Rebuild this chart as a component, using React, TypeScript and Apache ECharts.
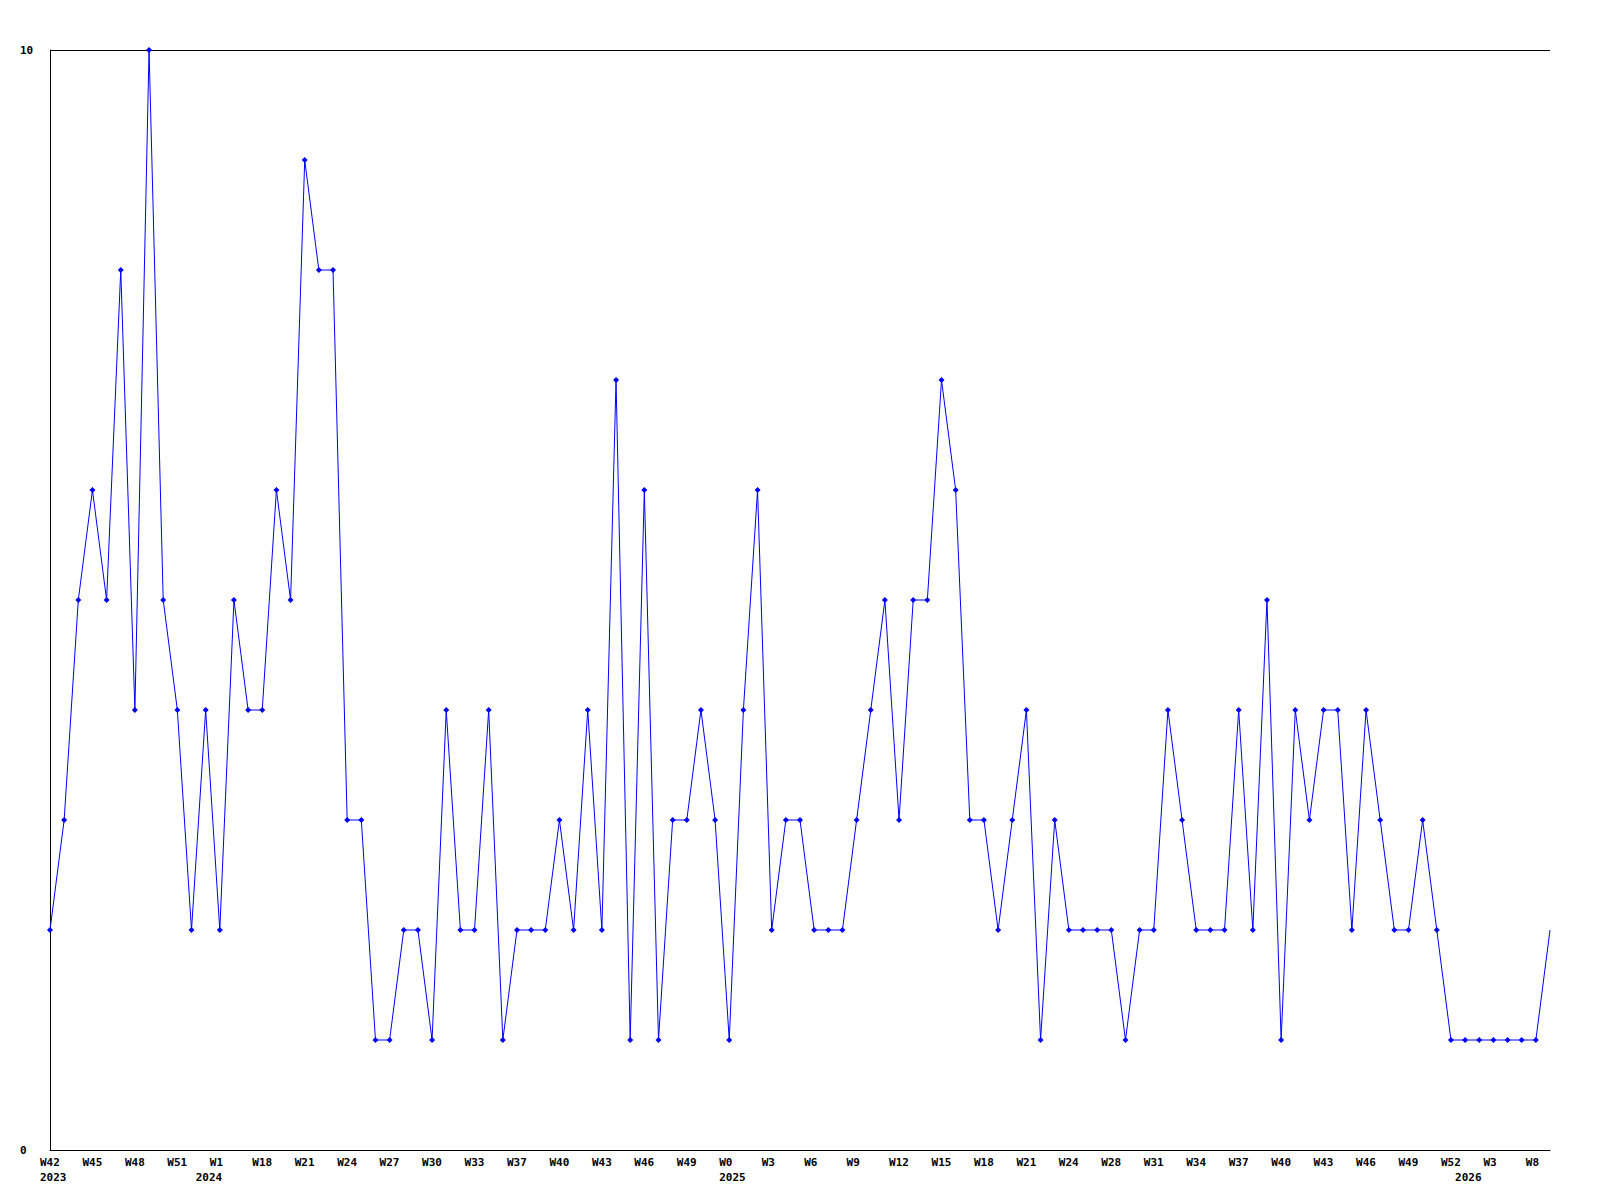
import React, { useEffect, useRef } from "react";
import * as echarts from "echarts";

const weeks = [
  "W42", "W43", "W44", "W45", "W46", "W47", "W48", "W49", "W50", "W51",
  "W52", "W0", "W1", "W2", "W17", "W18", "W19", "W20", "W21", "W22",
  "W23", "W24", "W25", "W26", "W27", "W28", "W29", "W30", "W31", "W32",
  "W33", "W34", "W35", "W37", "W38", "W39", "W40", "W41", "W42", "W43",
  "W44", "W45", "W46", "W47", "W48", "W49", "W50", "W51", "W0", "W1",
  "W2", "W3", "W4", "W5", "W6", "W7", "W8", "W9", "W10", "W11",
  "W12", "W13", "W14", "W15", "W16", "W17", "W18", "W19", "W20", "W21",
  "W22", "W23", "W24", "W25", "W26", "W28", "W29", "W30", "W31", "W32",
  "W33", "W34", "W35", "W36", "W37", "W38", "W39", "W40", "W41", "W42",
  "W43", "W44", "W45", "W46", "W47", "W48", "W49", "W50", "W51", "W52",
  "W1", "W2", "W3", "W4", "W6", "W8", "W9",
];

const values = [
  2, 3, 5, 6, 5, 8, 4, 10, 5, 4,
  2, 4, 2, 5, 4, 4, 6, 5, 9, 8,
  8, 3, 3, 1, 1, 2, 2, 1, 4, 2,
  2, 4, 1, 2, 2, 2, 3, 2, 4, 2,
  7, 1, 6, 1, 3, 3, 4, 3, 1, 4,
  6, 2, 3, 3, 2, 2, 2, 3, 4, 5,
  3, 5, 5, 7, 6, 3, 3, 2, 3, 4,
  1, 3, 2, 2, 2, 2, 1, 2, 2, 4,
  3, 2, 2, 2, 4, 2, 5, 1, 4, 3,
  4, 4, 2, 4, 3, 2, 2, 3, 2, 1,
  1, 1, 1, 1, 1, 1, 2,
];

const yearNames = ["2023", "2024", "2025", "2026"];
const yearIndex = [0, 11, 48, 100];

const FONT = "'DejaVu Sans Mono', monospace";

export default function App() {
  const ref = useRef<HTMLDivElement>(null);

  useEffect(() => {
    document.body.style.margin = "0";
    if (!ref.current) return;
    const chart = echarts.init(ref.current, null, { renderer: "svg" });

    const yearData = weeks.map(() => "");
    yearIndex.forEach((idx, i) => {
      yearData[idx] = yearNames[i];
    });

    const seriesData = values.map((v, i) =>
      i === values.length - 1 ? { value: v, symbol: "none" } : v
    );

    const labelStyle = {
      fontFamily: FONT,
      fontSize: 11,
      fontWeight: "bold" as const,
      color: "#000",
    };

    chart.setOption({
      animation: false,
      backgroundColor: "#fff",
      grid: [
        { left: 50, right: 50, top: 50, bottom: 50 },
        { left: 40, right: 60, top: 50, bottom: 50 },
      ],
      xAxis: [
        {
          type: "category",
          gridIndex: 0,
          data: weeks,
          boundaryGap: false,
          axisLine: { show: true, lineStyle: { color: "#000", width: 1 } },
          axisTick: { show: false },
          axisLabel: { show: false },
          splitLine: { show: false },
        },
        {
          type: "category",
          gridIndex: 1,
          data: weeks,
          boundaryGap: false,
          position: "bottom",
          axisLine: { show: false },
          axisTick: { show: false },
          splitLine: { show: false },
          axisLabel: {
            ...labelStyle,
            interval: 2,
            align: "left",
            margin: 7,
          },
        },
        {
          type: "category",
          gridIndex: 1,
          data: yearData,
          boundaryGap: false,
          position: "bottom",
          offset: 15,
          axisLine: { show: false },
          axisTick: { show: false },
          splitLine: { show: false },
          axisLabel: {
            ...labelStyle,
            interval: 0,
            align: "left",
            margin: 7,
          },
        },
      ],
      yAxis: [
        {
          type: "value",
          gridIndex: 0,
          min: 0,
          max: 10,
          interval: 10,
          axisLine: { show: true, lineStyle: { color: "#000", width: 1 } },
          axisTick: { show: false },
          splitLine: { show: true, lineStyle: { color: "#000", width: 1 } },
          axisLabel: { ...labelStyle, align: "left", margin: 30 },
        },
        {
          type: "value",
          gridIndex: 1,
          min: 0,
          max: 10,
          show: false,
        },
      ],
      series: [
        {
          type: "line",
          xAxisIndex: 0,
          yAxisIndex: 0,
          data: seriesData,
          symbol: "diamond",
          symbolSize: 6,
          showAllSymbol: true,
          lineStyle: { color: "#0000ff", width: 1 },
          itemStyle: { color: "#0000ff" },
        },
      ],
    });

    return () => chart.dispose();
  }, []);

  return <div ref={ref} style={{ width: 1600, height: 1200 }} />;
}
